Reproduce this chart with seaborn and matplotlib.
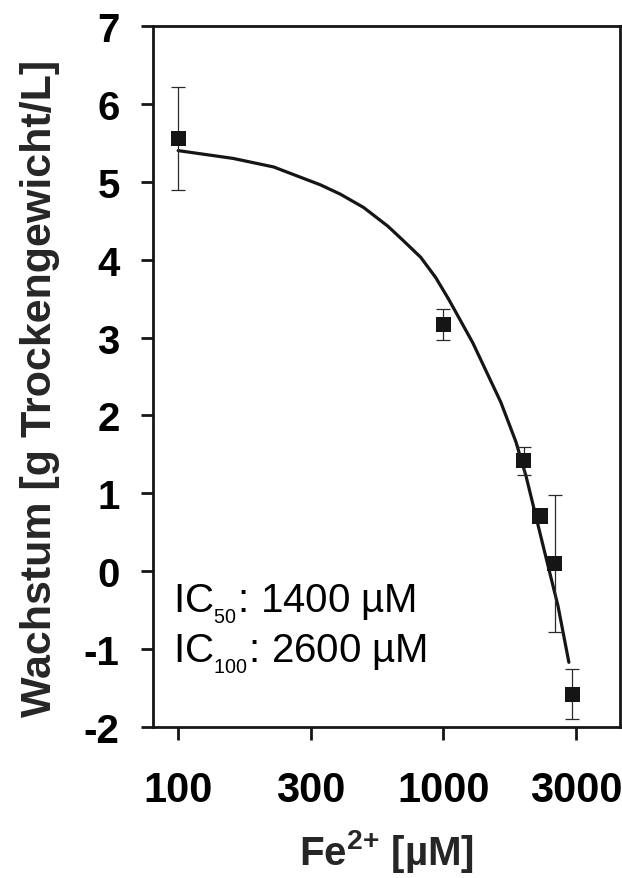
import numpy as np
import pandas as pd
import matplotlib
matplotlib.use("Agg")
import matplotlib.pyplot as plt
import seaborn as sns

# -------------------------------------------------
# Data
# -------------------------------------------------
fe_conc = [100, 1000, 2010, 2310, 2630, 3055]          # µM
growth = [5.56, 3.17, 1.42, 0.71, 0.10, -1.58]         # g dry weight / L
growth_sd = [0.66, 0.20, 0.18, 0.05, 0.88, 0.32]

# fitted curve, traced point by point
fit_conc = [100, 161, 229, 344, 409, 500, 617, 708, 821, 935, 1047, 1291,
            1645, 1876, 2048, 2393, 2704, 2970]
fit_growth = [5.40, 5.30, 5.19, 4.96, 4.84, 4.67, 4.43, 4.24, 4.03, 3.77,
              3.49, 2.93, 2.17, 1.66, 1.22, 0.28, -0.45, -1.17]

x_ticks = [100, 316.2, 1000, 3162]
x_tick_labels = ["100", "300", "1000", "3000"]
y_ticks = [-2, -1, 0, 1, 2, 3, 4, 5, 6, 7]

# -------------------------------------------------
# Style
# -------------------------------------------------
sns.set_theme(style="ticks")
plt.rcParams["font.family"] = ["Liberation Sans", "DejaVu Sans"]
plt.rcParams["mathtext.fontset"] = "custom"
plt.rcParams["mathtext.rm"] = "Liberation Sans"
plt.rcParams["mathtext.bf"] = "Liberation Sans:bold"
plt.rcParams["mathtext.default"] = "regular"

INK = "#151515"

fig = plt.figure(figsize=(6.22, 8.79), dpi=100)
ax = fig.add_axes([0.246, 0.1718, 0.751, 0.7975])

df_pts = pd.DataFrame({"conc": fe_conc, "growth": growth, "sd": growth_sd})
df_fit = pd.DataFrame({"conc": fit_conc, "growth": fit_growth})

sns.lineplot(data=df_fit, x="conc", y="growth", color=INK, linewidth=2.3,
             ax=ax, zorder=2)
ax.errorbar(df_pts["conc"], df_pts["growth"], yerr=df_pts["sd"], fmt="none",
            ecolor="#2a2a2a", elinewidth=0.9, capsize=5, capthick=0.9, zorder=3)
sns.scatterplot(data=df_pts, x="conc", y="growth", marker="s", s=120,
                color=INK, edgecolor="none", ax=ax, zorder=4)

ax.set_xscale("log")
ax.set_xlim(80.4, 4634)
ax.set_ylim(-2, 7)
ax.set_xticks(x_ticks)
ax.set_xticklabels(x_tick_labels)
ax.xaxis.set_minor_locator(matplotlib.ticker.NullLocator())
ax.set_yticks(y_ticks)
ax.set_yticklabels([str(v) for v in y_ticks])

for side in ["left", "right", "top", "bottom"]:
    ax.spines[side].set_visible(True)
    ax.spines[side].set_linewidth(2.0)
    ax.spines[side].set_color(INK)

ax.tick_params(axis="both", direction="out", length=9, width=2, color=INK,
               labelcolor="black")
ax.tick_params(axis="x", pad=22, labelsize=30)
ax.tick_params(axis="y", pad=15, labelsize=29)
for lab in ax.get_xticklabels() + ax.get_yticklabels():
    lab.set_fontweight("bold")

ax.set_xlabel(r"Fe$^{\mathbf{2{+}}}$ [µM]", fontsize=29, fontweight="bold")
ax.set_ylabel("Wachstum [g Trockengewicht/L]", fontsize=31, fontweight="bold")
ax.xaxis.set_label_coords(0.5, -0.143)
ax.yaxis.set_label_coords(-0.20, 0.485)

ax.text(0.043, 0.164, "IC$_{{}_{50}}$: 1400 µM", transform=ax.transAxes,
        fontsize=29, color="black", va="baseline")
ax.text(0.043, 0.093, "IC$_{{}_{100}}$: 2600 µM", transform=ax.transAxes,
        fontsize=29, color="black", va="baseline")

fig.savefig("out.png", dpi=100)
